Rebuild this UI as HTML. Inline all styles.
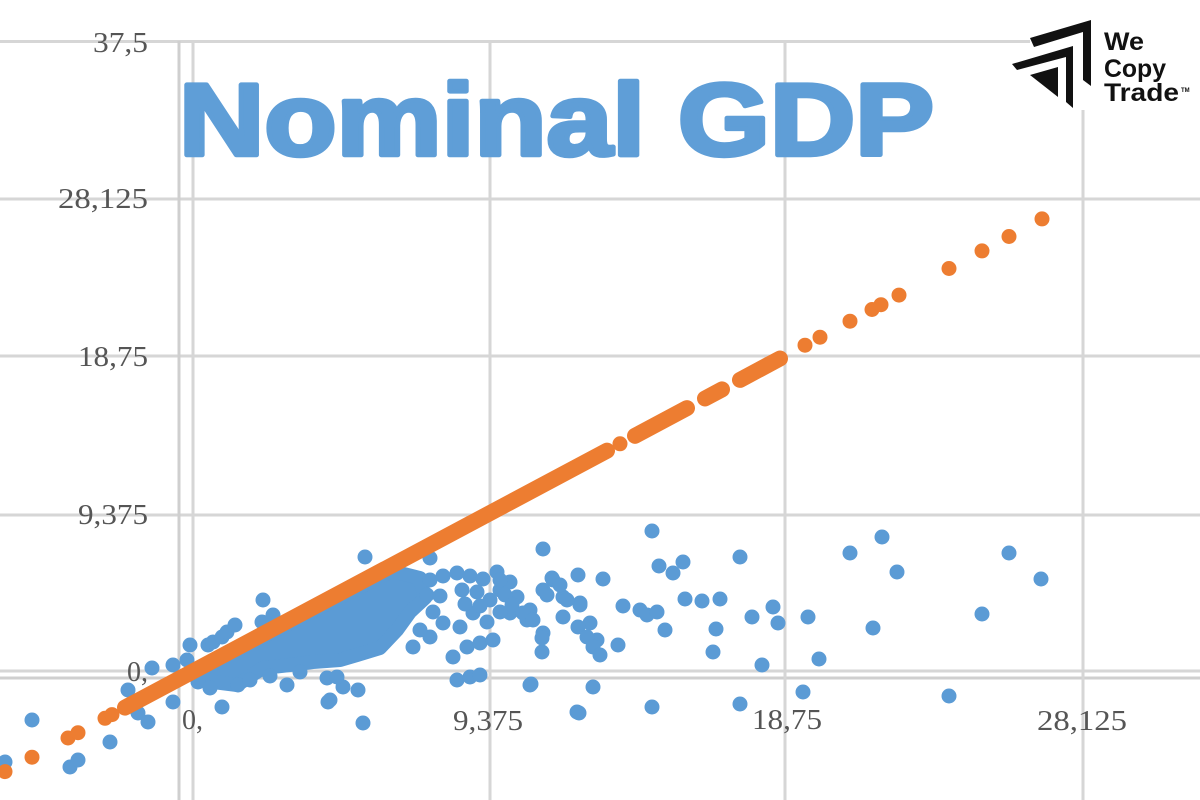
<!DOCTYPE html>
<html><head><meta charset="utf-8"><style>
html,body{margin:0;padding:0;background:#fff;width:1200px;height:800px;overflow:hidden}
svg{display:block}
</style></head><body>
<svg width="1200" height="800" viewBox="0 0 1200 800" xmlns="http://www.w3.org/2000/svg">
<rect width="1200" height="800" fill="#fff"/>
<!-- gridlines -->
<g stroke="#d6d6d6" stroke-width="3" fill="none">
<line x1="0" y1="41.5" x2="1200" y2="41.5"/>
<line x1="0" y1="199" x2="1200" y2="199"/>
<line x1="0" y1="356" x2="1200" y2="356"/>
<line x1="0" y1="515" x2="1200" y2="515"/>
<line x1="0" y1="671" x2="1200" y2="671"/>
<line x1="0" y1="678" x2="1200" y2="678" stroke="#cfcfcf"/>
<line x1="179" y1="41" x2="179" y2="800" stroke="#cfcfcf"/>
<line x1="193" y1="41" x2="193" y2="800"/>
<line x1="490" y1="41" x2="490" y2="800"/>
<line x1="785" y1="41" x2="785" y2="800"/>
<line x1="1083" y1="41" x2="1083" y2="800"/>
</g>
<!-- tick labels -->
<g font-family="'Liberation Serif', serif" font-size="28" fill="#555">
<text x="93" y="52" textLength="55" lengthAdjust="spacingAndGlyphs">37,5</text>
<text x="58" y="208" textLength="90" lengthAdjust="spacingAndGlyphs">28,125</text>
<text x="78" y="366" textLength="70" lengthAdjust="spacingAndGlyphs">18,75</text>
<text x="78" y="524" textLength="70" lengthAdjust="spacingAndGlyphs">9,375</text>
<text x="127" y="681">0,</text>
<text x="182" y="729">0,</text>
<text x="453" y="730" textLength="70" lengthAdjust="spacingAndGlyphs">9,375</text>
<text x="752" y="729" textLength="70" lengthAdjust="spacingAndGlyphs">18,75</text>
<text x="1037" y="730" textLength="90" lengthAdjust="spacingAndGlyphs">28,125</text>
</g>
<!-- blue series -->
<g fill="#5b9bd5">
<polygon points="198,670 392,571 420,578 425,598 410,612 397,630 380,648 357,655 340,660 313,662 290,665 263,668 237,685 213,682 195,675" stroke="#5b9bd5" stroke-width="14" stroke-linejoin="round"/>
<circle cx="430" cy="580" r="7.5"/><circle cx="443" cy="576" r="7.5"/><circle cx="457" cy="573" r="7.5"/><circle cx="470" cy="576" r="7.5"/>
<circle cx="483" cy="579" r="7.5"/><circle cx="510" cy="582" r="7.5"/><circle cx="517" cy="597" r="7.5"/><circle cx="510" cy="613" r="7.5"/>
<circle cx="487" cy="622" r="7.5"/><circle cx="473" cy="613" r="7.5"/><circle cx="460" cy="627" r="7.5"/><circle cx="443" cy="623" r="7.5"/>
<circle cx="430" cy="637" r="7.5"/><circle cx="413" cy="647" r="7.5"/><circle cx="427" cy="595" r="7.5"/><circle cx="440" cy="596" r="7.5"/>
<circle cx="462" cy="590" r="7.5"/><circle cx="477" cy="592" r="7.5"/><circle cx="490" cy="600" r="7.5"/><circle cx="500" cy="590" r="7.5"/>
<circle cx="433" cy="612" r="7.5"/><circle cx="480" cy="606" r="7.5"/><circle cx="465" cy="604" r="7.5"/><circle cx="420" cy="630" r="7.5"/>
<circle cx="5" cy="762" r="7.5"/><circle cx="32" cy="720" r="7.5"/><circle cx="70" cy="767" r="7.5"/><circle cx="78" cy="760" r="7.5"/>
<circle cx="110" cy="742" r="7.5"/><circle cx="128" cy="690" r="7.5"/><circle cx="138" cy="713" r="7.5"/><circle cx="148" cy="722" r="7.5"/>
<circle cx="152" cy="668" r="7.5"/><circle cx="173" cy="665" r="7.5"/><circle cx="173" cy="702" r="7.5"/><circle cx="187" cy="660" r="7.5"/>
<circle cx="190" cy="645" r="7.5"/><circle cx="198" cy="682" r="7.5"/><circle cx="208" cy="645" r="7.5"/><circle cx="213" cy="642" r="7.5"/>
<circle cx="222" cy="637" r="7.5"/><circle cx="227" cy="632" r="7.5"/><circle cx="235" cy="625" r="7.5"/><circle cx="222" cy="707" r="7.5"/>
<circle cx="238" cy="685" r="7.5"/><circle cx="263" cy="600" r="7.5"/><circle cx="262" cy="622" r="7.5"/><circle cx="273" cy="615" r="7.5"/>
<circle cx="210" cy="688" r="7.5"/><circle cx="250" cy="680" r="7.5"/><circle cx="270" cy="676" r="7.5"/><circle cx="300" cy="672" r="7.5"/>
<circle cx="287" cy="685" r="7.5"/><circle cx="327" cy="678" r="7.5"/><circle cx="343" cy="687" r="7.5"/><circle cx="358" cy="690" r="7.5"/>
<circle cx="328" cy="702" r="7.5"/><circle cx="363" cy="723" r="7.5"/><circle cx="365" cy="557" r="7.5"/><circle cx="430" cy="558" r="7.5"/>
<circle cx="337" cy="677" r="7.5"/><circle cx="330" cy="700" r="7.5"/><circle cx="457" cy="680" r="7.5"/><circle cx="470" cy="677" r="7.5"/>
<circle cx="480" cy="675" r="7.5"/><circle cx="453" cy="657" r="7.5"/><circle cx="467" cy="647" r="7.5"/><circle cx="480" cy="643" r="7.5"/>
<circle cx="493" cy="640" r="7.5"/><circle cx="530" cy="685" r="7.5"/><circle cx="542" cy="652" r="7.5"/><circle cx="543" cy="633" r="7.5"/>
<circle cx="497" cy="572" r="7.5"/><circle cx="543" cy="549" r="7.5"/><circle cx="578" cy="575" r="7.5"/><circle cx="553" cy="580" r="7.5"/>
<circle cx="543" cy="590" r="7.5"/><circle cx="563" cy="597" r="7.5"/><circle cx="530" cy="610" r="7.5"/><circle cx="527" cy="620" r="7.5"/>
<circle cx="563" cy="617" r="7.5"/><circle cx="580" cy="603" r="7.5"/><circle cx="590" cy="623" r="7.5"/><circle cx="597" cy="640" r="7.5"/>
<circle cx="577" cy="712" r="7.5"/><circle cx="500" cy="580" r="7.5"/><circle cx="505" cy="595" r="7.5"/><circle cx="512" cy="605" r="7.5"/>
<circle cx="500" cy="612" r="7.5"/><circle cx="523" cy="613" r="7.5"/><circle cx="533" cy="620" r="7.5"/><circle cx="580" cy="605" r="7.5"/>
<circle cx="578" cy="627" r="7.5"/><circle cx="587" cy="637" r="7.5"/><circle cx="593" cy="647" r="7.5"/><circle cx="600" cy="655" r="7.5"/>
<circle cx="542" cy="638" r="7.5"/><circle cx="618" cy="645" r="7.5"/><circle cx="623" cy="606" r="7.5"/><circle cx="640" cy="610" r="7.5"/>
<circle cx="647" cy="615" r="7.5"/><circle cx="657" cy="612" r="7.5"/><circle cx="665" cy="630" r="7.5"/><circle cx="685" cy="599" r="7.5"/>
<circle cx="702" cy="601" r="7.5"/><circle cx="720" cy="599" r="7.5"/><circle cx="716" cy="629" r="7.5"/><circle cx="713" cy="652" r="7.5"/>
<circle cx="752" cy="617" r="7.5"/><circle cx="773" cy="607" r="7.5"/><circle cx="778" cy="623" r="7.5"/><circle cx="762" cy="665" r="7.5"/>
<circle cx="808" cy="617" r="7.5"/><circle cx="819" cy="659" r="7.5"/><circle cx="850" cy="553" r="7.5"/><circle cx="882" cy="537" r="7.5"/>
<circle cx="897" cy="572" r="7.5"/><circle cx="873" cy="628" r="7.5"/><circle cx="803" cy="692" r="7.5"/><circle cx="740" cy="704" r="7.5"/>
<circle cx="652" cy="707" r="7.5"/><circle cx="593" cy="687" r="7.5"/><circle cx="579" cy="713" r="7.5"/><circle cx="531" cy="684" r="7.5"/>
<circle cx="652" cy="531" r="7.5"/><circle cx="740" cy="557" r="7.5"/><circle cx="659" cy="566" r="7.5"/><circle cx="683" cy="562" r="7.5"/>
<circle cx="673" cy="573" r="7.5"/><circle cx="603" cy="579" r="7.5"/><circle cx="552" cy="578" r="7.5"/><circle cx="560" cy="585" r="7.5"/>
<circle cx="547" cy="595" r="7.5"/><circle cx="567" cy="600" r="7.5"/><circle cx="1009" cy="553" r="7.5"/><circle cx="1041" cy="579" r="7.5"/>
<circle cx="982" cy="614" r="7.5"/><circle cx="949" cy="696" r="7.5"/>
</g>
<!-- orange series -->
<g fill="#ed7d31" stroke="#ed7d31" stroke-width="16" stroke-linecap="round">
<line x1="125" y1="707.6" x2="607" y2="450.7"/>
<line x1="635" y1="435.8" x2="687" y2="408.1"/>
<line x1="705" y1="398.5" x2="722" y2="389.4"/>
<line x1="740" y1="379.9" x2="780" y2="358.5"/>
</g>
<g fill="#ed7d31">
<circle cx="5" cy="771.6" r="7.5"/><circle cx="32" cy="757.2" r="7.5"/><circle cx="68" cy="738" r="7.5"/><circle cx="78" cy="732.7" r="7.5"/>
<circle cx="105" cy="718.3" r="7.5"/><circle cx="112" cy="714.6" r="7.5"/><circle cx="620" cy="443.8" r="7.5"/>
<circle cx="805" cy="345.2" r="7.5"/><circle cx="820" cy="337.2" r="7.5"/><circle cx="850" cy="321.2" r="7.5"/><circle cx="872" cy="309.5" r="7.5"/>
<circle cx="881" cy="304.7" r="7.5"/><circle cx="899" cy="295.1" r="7.5"/><circle cx="949" cy="268.5" r="7.5"/><circle cx="982" cy="250.9" r="7.5"/>
<circle cx="1009" cy="236.5" r="7.5"/><circle cx="1042" cy="218.9" r="7.5"/>
</g>
<!-- title -->
<text x="179" y="155" font-family="'Liberation Sans', sans-serif" font-weight="bold" font-size="102" fill="#5f9ed7" stroke="#5f9ed7" stroke-width="4.5" stroke-linejoin="round" textLength="755" lengthAdjust="spacingAndGlyphs">Nominal GDP</text>
<!-- logo -->
<rect x="1030" y="10" width="170" height="100" fill="#fff"/>
<g fill="#111">
<polygon points="1030,38 1091,20 1091,86 1083,80 1083,32 1034,47"/>
<polygon points="1012,64 1073,46 1073,108 1066,102 1066,57 1017,70"/>
<polygon points="1030,75 1058,67 1058,97"/>
</g>
<g font-family="'Liberation Sans', sans-serif" font-weight="bold" font-size="25" fill="#111">
<text x="1104" y="50" textLength="40" lengthAdjust="spacingAndGlyphs">We</text>
<text x="1104" y="77" textLength="62" lengthAdjust="spacingAndGlyphs">Copy</text>
<text x="1104" y="101" textLength="75" lengthAdjust="spacingAndGlyphs">Trade</text>
<text x="1181" y="92" font-size="6">TM</text>
</g>
</svg>
</body></html>
